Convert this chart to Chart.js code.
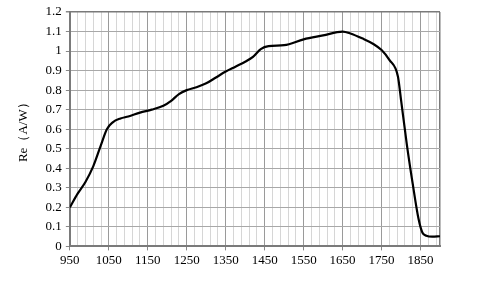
<!DOCTYPE html>
<html>
<head>
<meta charset="utf-8">
<script src="https://cdn.jsdelivr.net/npm/chart.js@4/dist/chart.umd.min.js"></script>
<style>
  html, body { margin: 0; padding: 0; background: #fff; }
</style>
</head>
<body>
<canvas id="myChart" width="486" height="296"></canvas>
<script>
// wavelength (nm) and responsivity (A/W)
const wavelength = [950, 970, 990, 1010, 1030, 1045, 1060, 1080, 1100, 1130, 1160, 1190, 1210, 1230, 1250,
  1275, 1300, 1325, 1350, 1375, 1400, 1420, 1440, 1460, 1500, 1550, 1600, 1650, 1670, 1700, 1730,
  1750, 1770, 1792, 1800, 1815, 1830, 1845, 1855, 1865, 1880, 1900];
const responsivity = [0.20, 0.27, 0.33, 0.41, 0.52, 0.60, 0.635, 0.655, 0.665, 0.685, 0.70, 0.72, 0.745, 0.78, 0.80,
  0.815, 0.835, 0.865, 0.895, 0.92, 0.945, 0.97, 1.01, 1.025, 1.03, 1.06, 1.08, 1.10, 1.09, 1.065, 1.035,
  1.005, 0.955, 0.87, 0.75, 0.52, 0.32, 0.14, 0.07, 0.055, 0.05, 0.052];

const xTickLabels = [950, 1050, 1150, 1250, 1350, 1450, 1550, 1650, 1750, 1850];
const yTickLabels = ["0", "0.1", "0.2", "0.3", "0.4", "0.5", "0.6", "0.7", "0.8", "0.9", "1", "1.1", "1.2"];
const xMin = 950, xMax = 1900, xMinorStep = 20;

const ctx = document.getElementById("myChart").getContext("2d");

const isMajor = (v) => xTickLabels.includes(v) || v === xMax;
const isTop = (v) => Math.abs(v - 1.2) < 1e-6;

const myChart = new Chart(ctx, {
  type: "line",
  data: {
    datasets: [{
      data: wavelength.map((w, i) => ({ x: w, y: responsivity[i] })),
      borderColor: "#000",
      borderWidth: 2.2,
      pointRadius: 0,
      cubicInterpolationMode: "monotone",
      fill: false,
    }],
  },
  options: {
    responsive: false,
    animation: false,
    layout: { padding: { left: 16, right: 46, top: 12, bottom: 26 } },
    plugins: { legend: { display: false }, tooltip: { enabled: false } },
    scales: {
      x: {
        type: "linear",
        min: xMin,
        max: xMax,
        afterBuildTicks: (scale) => {
          const t = [];
          for (let v = xMin; v < xMax; v += xMinorStep) t.push({ value: v });
          t.push({ value: xMax });
          scale.ticks = t;
        },
        grid: {
          color: (c) => c.tick && c.tick.value === xMax ? "#7a7a7a" : (c.tick && isMajor(c.tick.value) ? "#9a9a9a" : "#d6d6d6"),
          lineWidth: (c) => c.tick && c.tick.value === xMax ? 1.5 : 1,
          tickLength: 4,
          tickColor: (c) => c.tick && xTickLabels.includes(c.tick.value) ? "#888" : "rgba(0,0,0,0)",
        },
        border: { color: "#7a7a7a", width: 2 },
        ticks: {
          autoSkip: false,
          maxRotation: 0,
          color: "#000",
          padding: 2,
          font: { family: "Liberation Serif", size: 13 },
          callback: (v) => xTickLabels.includes(v) ? String(v) : "",
        },
      },
      y: {
        min: 0,
        max: 1.2,
        afterBuildTicks: (scale) => {
          scale.ticks = yTickLabels.map((s) => ({ value: parseFloat(s) }));
        },
        ticks: {
          autoSkip: false,
          color: "#000",
          padding: 4,
          font: { family: "Liberation Serif", size: 13 },
          callback: (v, i) => yTickLabels[i],
        },
        grid: {
          color: (c) => c.tick && isTop(c.tick.value) ? "#7a7a7a" : "#a8a8a8",
          lineWidth: (c) => c.tick && isTop(c.tick.value) ? 1.5 : 1,
          tickLength: 4,
          tickColor: "#888",
        },
        border: { color: "#7a7a7a", width: 2 },
        title: {
          display: true,
          text: "Re\uFF08A/W\uFF09",
          color: "#000",
          padding: { top: 0, bottom: 10 },
          font: { family: "Liberation Serif", size: 13 },
        },
      },
    },
  },
});
</script>
</body>
</html>
